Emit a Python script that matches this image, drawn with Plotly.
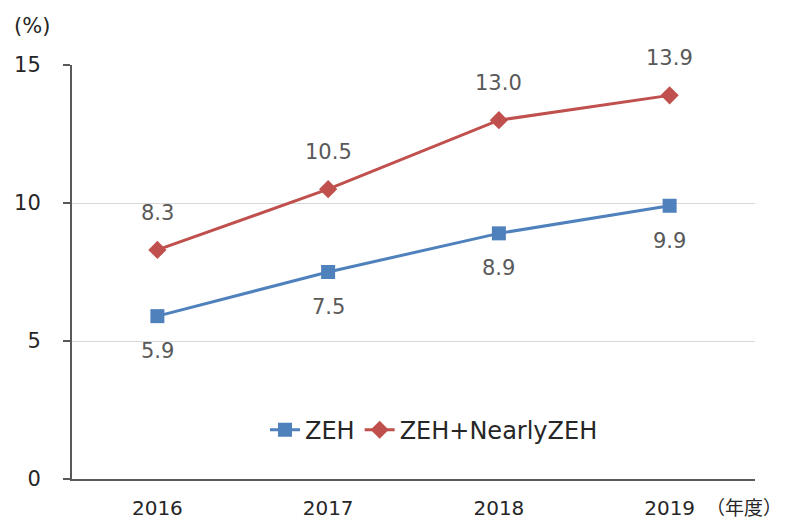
import plotly.graph_objects as go

years = ["2016", "2017", "2018", "2019"]
zeh = [5.9, 7.5, 8.9, 9.9]
nearly = [8.3, 10.5, 13.0, 13.9]
y_ticks = [0, 5, 10, 15]

FONT = "DejaVu Sans"
fig = go.Figure()
fig.add_trace(go.Scatter(x=years, y=zeh, name="ZEH", mode="lines+markers",
                         line=dict(color="#4F81BD", width=3),
                         marker=dict(symbol="square", size=14, color="#4F81BD")))
fig.add_trace(go.Scatter(x=years, y=nearly, name="ZEH+NearlyZEH", mode="lines+markers",
                         line=dict(color="#C0504D", width=3),
                         marker=dict(symbol="diamond", size=14, color="#C0504D")))

for i, v in enumerate(zeh):
    fig.add_annotation(x=i, y=v, text=f"{v:.1f}", showarrow=False, yshift=-35,
                       font=dict(family=FONT, size=21, color="#595959"))
for i, v in enumerate(nearly):
    fig.add_annotation(x=i, y=v, text=f"{v:.1f}", showarrow=False, yshift=37,
                       font=dict(family=FONT, size=21, color="#595959"))

fig.add_annotation(xref="paper", yref="paper", x=-0.088, y=1.095, xanchor="left",
                   yanchor="middle", text="(%)", showarrow=False,
                   font=dict(family=FONT, size=21, color="#262626"))
fig.add_annotation(xref="paper", yref="paper", x=0.984, y=-0.066, xanchor="center",
                   yanchor="middle", text="（年度）", showarrow=False,
                   font=dict(family="Noto Sans CJK JP", size=19, color="#262626"))

fig.update_layout(
    width=778, height=513,
    margin=dict(l=64, r=31, t=57, b=42, autoexpand=False),
    paper_bgcolor="white", plot_bgcolor="white",
    font=dict(family=FONT, size=21, color="#262626"),
    showlegend=True,
    legend=dict(orientation="h", x=0.53, y=0.118, xanchor="center", yanchor="middle",
                font=dict(family=FONT, size=24, color="#262626"),
                bgcolor="rgba(0,0,0,0)", itemwidth=30, tracegroupgap=0),
    xaxis=dict(type="category", range=[-0.5, 3.5], showgrid=False, automargin=False,
               showline=True, linecolor="#595959", linewidth=2,
               tickfont=dict(size=20),
               ticks="", ticklabelstandoff=10),
    yaxis=dict(range=[0, 15], tickvals=y_ticks, showgrid=True, gridcolor="#D9D9D9",
               gridwidth=1, showline=True, linecolor="#595959", linewidth=2,
               automargin=False,
               ticks="outside", ticklen=7, tickcolor="#595959", tickwidth=2,
               ticklabelstandoff=18, zeroline=False),
)
fig.write_html("out.html")
